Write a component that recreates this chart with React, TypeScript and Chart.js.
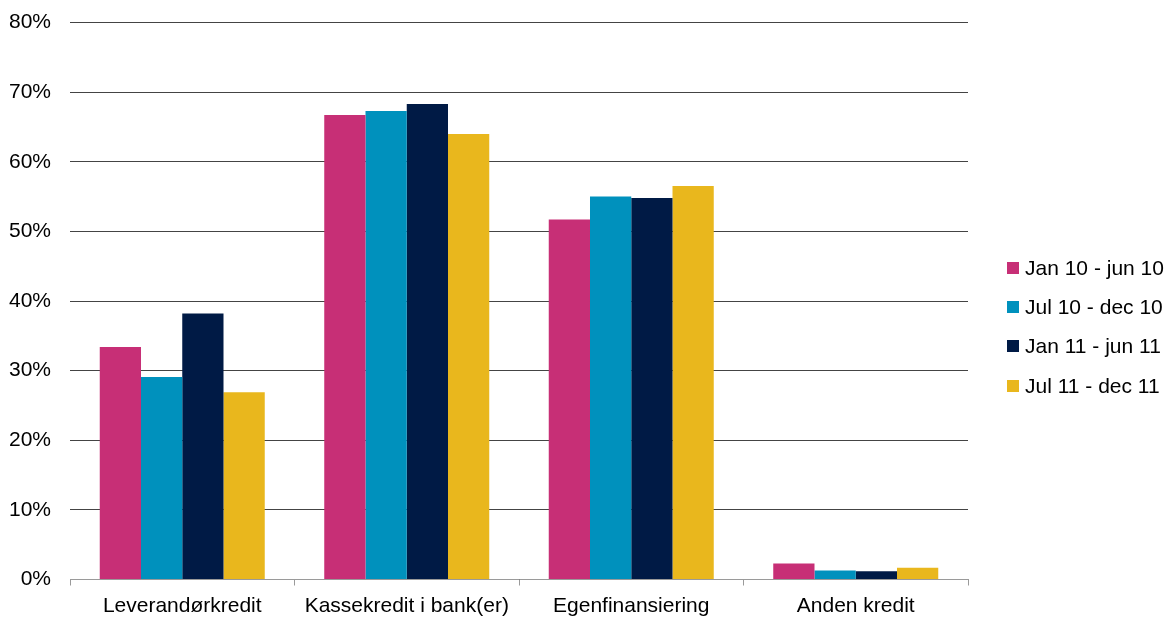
import React, { useEffect, useRef } from "react";
import { Chart, registerables } from "chart.js";

Chart.register(...registerables);

const categories = ["Leverandørkredit", "Kassekredit i bank(er)", "Egenfinansiering", "Anden kredit"];
const seriesLabels = ["Jan 10 - jun 10", "Jul 10 - dec 10", "Jan 11 - jun 11", "Jul 11 - dec 11"];
const jan10jun10 = [33.4, 66.7, 51.7, 2.3];
const jul10dec10 = [29.1, 67.3, 55.0, 1.3];
const jan11jun11 = [38.2, 68.3, 54.8, 1.2];
const jul11dec11 = [26.9, 64.0, 56.5, 1.7];
const seriesValues = [jan10jun10, jul10dec10, jan11jun11, jul11dec11];
const seriesColors = ["#C72F76", "#0091BD", "#001A45", "#E9B71D"];
const yMin = 0;
const yMax = 80;
const yStep = 10;

const FONT = "'Liberation Sans', Arial, Helvetica, sans-serif";

export default function App() {
  const canvasRef = useRef<HTMLCanvasElement | null>(null);

  useEffect(() => {
    if (!canvasRef.current) return;
    const chart = new Chart(canvasRef.current, {
      type: "bar",
      data: {
        labels: categories,
        datasets: seriesLabels.map((label, i) => ({
          label,
          data: seriesValues[i],
          backgroundColor: seriesColors[i],
          borderWidth: 0,
          categoryPercentage: 0.735,
          barPercentage: 1.0,
        })),
      },
      options: {
        animation: false,
        responsive: false,
        maintainAspectRatio: false,
        layout: { padding: { left: 8, right: 197, top: 22.5, bottom: 0 } },
        plugins: {
          legend: { display: false },
          tooltip: { enabled: false },
        },
        scales: {
          x: {
            afterFit: (s: any) => {
              s.height = 37.5;
            },
            grid: {
              display: true,
              drawOnChartArea: false,
              drawTicks: true,
              tickLength: 6,
              color: "#9a9a9a",
              offset: true,
            },
            border: { display: true, color: "#9a9a9a", width: 1 },
            ticks: {
              color: "#000",
              font: { family: FONT, size: 21 },
              padding: 8,
              maxRotation: 0,
            },
          },
          y: {
            min: yMin,
            max: yMax,
            afterFit: (s: any) => {
              s.width = 62;
              s.paddingTop = 0;
              s.paddingBottom = 0;
            },
            grid: {
              color: "#444",
              lineWidth: 1,
              drawTicks: false,
            },
            border: { display: false },
            ticks: {
              stepSize: yStep,
              color: "#000",
              font: { family: FONT, size: 21 },
              padding: 19,
              callback: (v: any) => v + "%",
            },
          },
        },
      },
    });
    return () => chart.destroy();
  }, []);

  return (
    <div style={{ position: "absolute", left: 0, top: 0, width: 1165, height: 617, background: "#fff" }}>
      <canvas ref={canvasRef} width={1165} height={617} style={{ display: "block", width: 1165, height: 617 }} />
      {seriesLabels.map((label, i) => (
        <div
          key={label}
          style={{
            position: "absolute",
            left: 1007,
            top: 256 + i * 39.2,
            height: 24,
            display: "flex",
            alignItems: "center",
            fontFamily: FONT,
            fontSize: 21,
            color: "#000",
            whiteSpace: "nowrap",
          }}
        >
          <span style={{ display: "inline-block", width: 12, height: 12, background: seriesColors[i], marginRight: 6 }} />
          <span>{label}</span>
        </div>
      ))}
    </div>
  );
}
